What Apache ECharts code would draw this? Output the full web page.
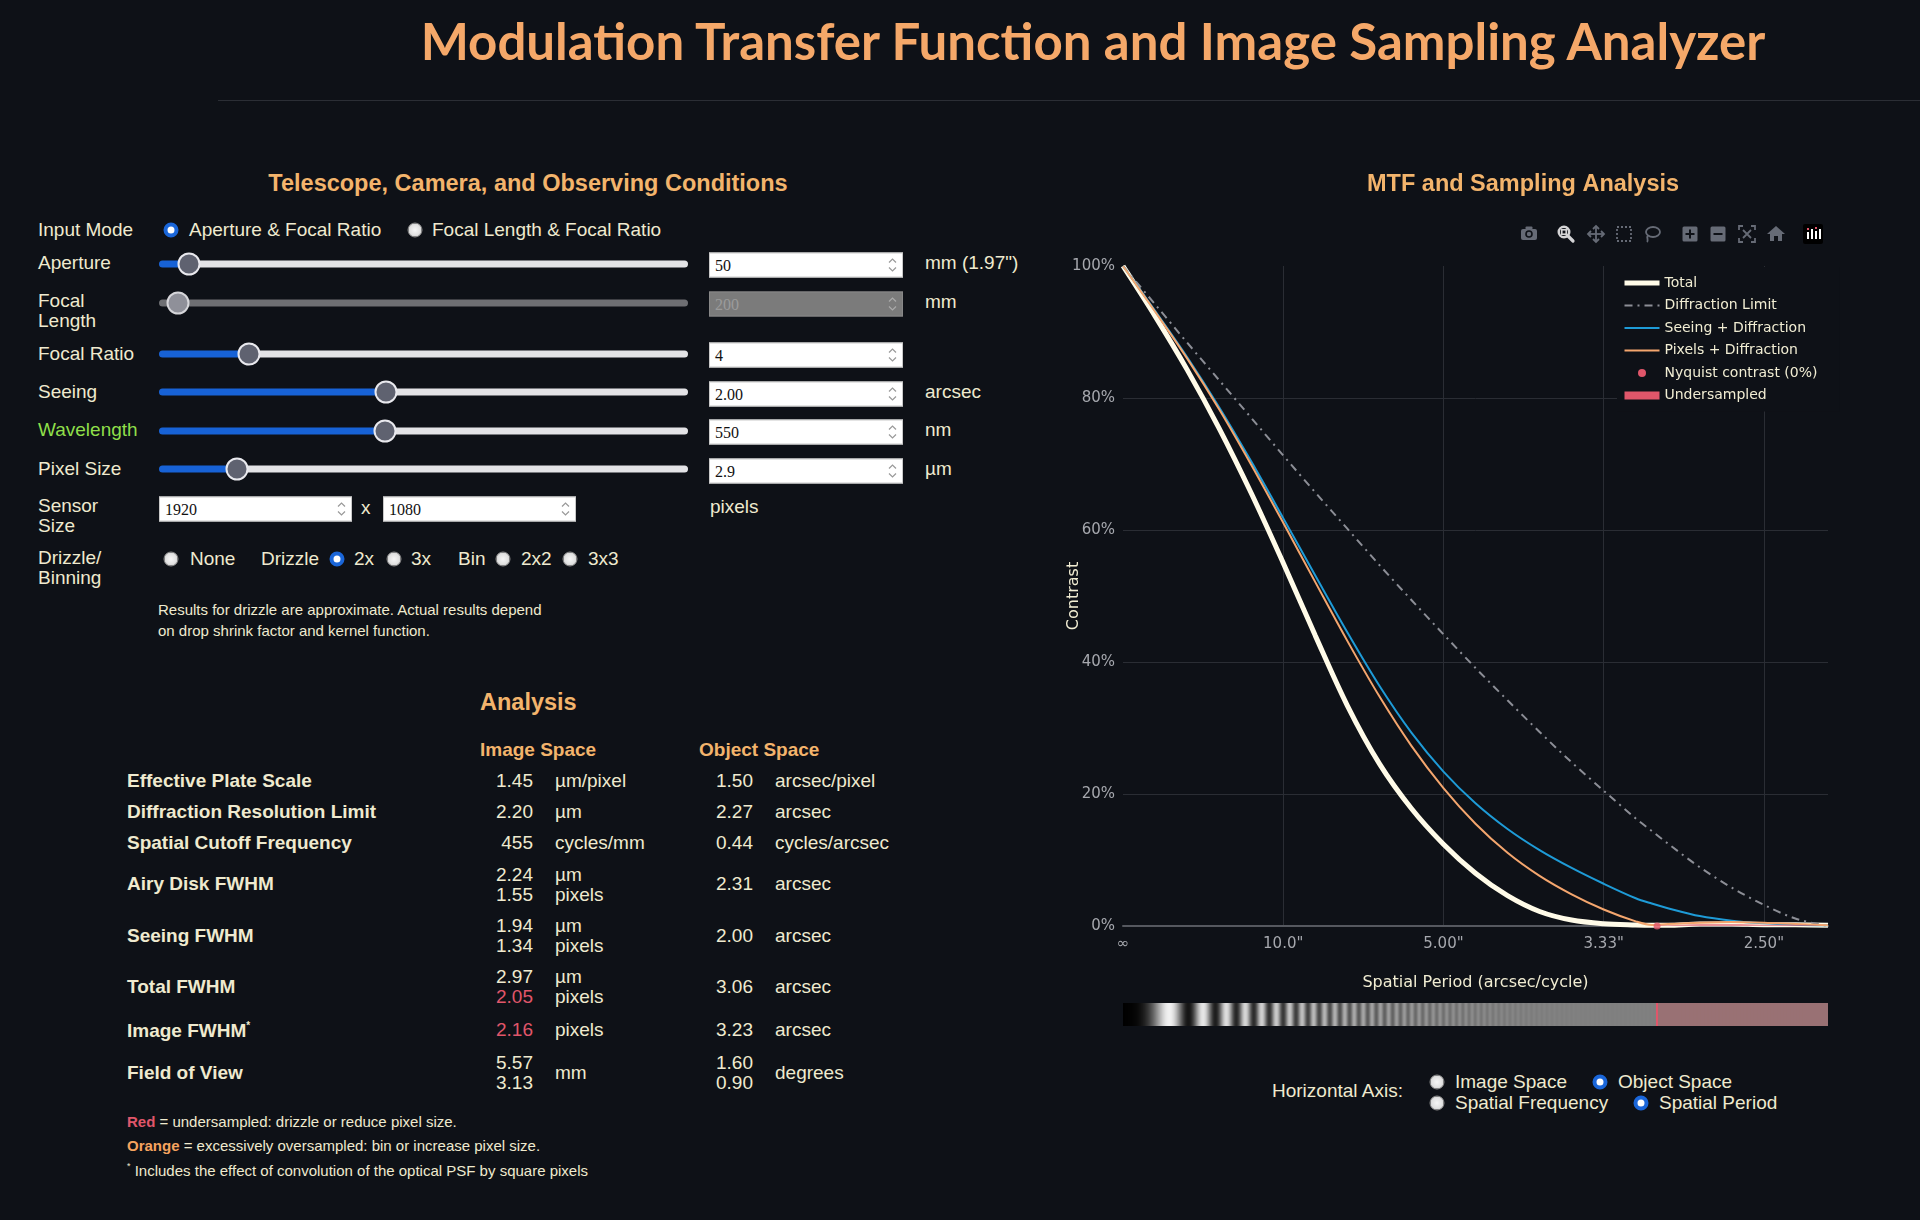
<!DOCTYPE html>
<html>
<head>
<meta charset="utf-8">
<title>Modulation Transfer Function and Image Sampling Analyzer</title>
<script src="https://cdn.jsdelivr.net/npm/echarts@6/dist/echarts.min.js"></script>
<style>
body{margin:0;background:#0e1117;width:1920px;height:1220px;overflow:hidden;position:relative;font-family:"Liberation Sans",Arial,sans-serif;color:#efeacf;}
.a{position:absolute;white-space:nowrap;transform:translateY(-50%);line-height:1.15;}
.r{transform:translate(-100%,-50%);}
.lbl{font-size:19px;}
.h{font-weight:bold;font-size:23.5px;color:#f3b46c;}
.hs{font-weight:bold;font-size:19px;color:#f3b46c;}
.lb{font-weight:bold;font-size:19px;}
.v{font-size:19px;}
.red{color:#e0566a;}
.note{font-size:15px;}
.rad{position:absolute;width:15px;height:15px;border-radius:50%;box-sizing:border-box;transform:translate(-50%,-50%);background:radial-gradient(circle,#f6f6f6 0,#e2e2e2 55%,#b5b5b5 100%);border:1px solid #8d8d8d;}
.rad.on{background:#fff;border:4px solid #1a66d9;}
.trk{position:absolute;left:159px;width:529px;height:7px;border-radius:4px;transform:translateY(-50%);}
.thumb{position:absolute;width:23px;height:23px;border-radius:50%;box-sizing:border-box;background:#5f6270;border:2.5px solid #e9e9ee;transform:translate(-50%,-50%);}
.inp{position:absolute;height:25px;background:#fff;border:1px solid #c9c9c9;box-sizing:border-box;transform:translateY(-50%);font:16px "Liberation Serif",serif;color:#111;padding-left:5px;line-height:23px;}
.inp.dis{background:#7b7b7b;border-color:#888;color:#9b9b9b;}
.spin{position:absolute;right:3px;top:3px;width:13px;height:17px;}
#chart{position:absolute;left:1040px;top:150px;width:880px;height:900px;}
#grating{position:absolute;}
</style>
</head>
<body>
<!-- Page title -->
<div class="a" style="left:1093px;top:40px;transform:translate(-50%,-50%);font:bold 51px Lato,'Liberation Sans',sans-serif;color:#f5a869;">Modulation Transfer Function and Image Sampling Analyzer</div>
<div style="position:absolute;left:218px;top:100px;width:1702px;height:1px;background:#2b2e35;"></div>

<!-- Left panel -->
<div class="a h" style="left:528px;top:184px;transform:translate(-50%,-50%);">Telescope, Camera, and Observing Conditions</div>

<div class="a lbl" style="left:38px;top:230px;">Input Mode</div>
<span class="rad on" style="left:171px;top:230px;"></span>
<div class="a lbl" style="left:189px;top:230px;">Aperture &amp; Focal Ratio</div>
<span class="rad" style="left:415px;top:230px;"></span>
<div class="a lbl" style="left:432px;top:230px;">Focal Length &amp; Focal Ratio</div>

<div class="a lbl" style="left:38px;top:263px;">Aperture</div>
<div class="trk" style="top:264px;background:linear-gradient(90deg,#1762d6 0 30px,#e3e3e6 30px);"></div>
<div class="thumb" style="left:189px;top:264px;"></div>
<div class="inp" style="left:709px;top:265px;width:194px;">50<svg class="spin" viewBox="0 0 13 17"><path d="M3 6 L6.5 2.5 L10 6 M3 11 L6.5 14.5 L10 11" stroke="#999" fill="none" stroke-width="1.2"/></svg></div>
<div class="a lbl" style="left:925px;top:263px;">mm (1.97")</div>

<div class="a lbl" style="left:38px;top:311px;line-height:20px;">Focal<br>Length</div>
<div class="trk" style="top:303px;background:#6e6f73;"></div>
<div class="thumb" style="left:178px;top:303px;background:#8f9099;border-color:#d6d6da;"></div>
<div class="inp dis" style="left:709px;top:304px;width:194px;">200<svg class="spin" viewBox="0 0 13 17"><path d="M3 6 L6.5 2.5 L10 6 M3 11 L6.5 14.5 L10 11" stroke="#aaa" fill="none" stroke-width="1.2"/></svg></div>
<div class="a lbl" style="left:925px;top:302px;">mm</div>

<div class="a lbl" style="left:38px;top:354px;">Focal Ratio</div>
<div class="trk" style="top:354px;background:linear-gradient(90deg,#1762d6 0 90px,#e3e3e6 90px);"></div>
<div class="thumb" style="left:249px;top:354px;"></div>
<div class="inp" style="left:709px;top:355px;width:194px;">4<svg class="spin" viewBox="0 0 13 17"><path d="M3 6 L6.5 2.5 L10 6 M3 11 L6.5 14.5 L10 11" stroke="#999" fill="none" stroke-width="1.2"/></svg></div>

<div class="a lbl" style="left:38px;top:392px;">Seeing</div>
<div class="trk" style="top:392px;background:linear-gradient(90deg,#1762d6 0 227px,#e3e3e6 227px);"></div>
<div class="thumb" style="left:386px;top:392px;"></div>
<div class="inp" style="left:709px;top:394px;width:194px;">2.00<svg class="spin" viewBox="0 0 13 17"><path d="M3 6 L6.5 2.5 L10 6 M3 11 L6.5 14.5 L10 11" stroke="#999" fill="none" stroke-width="1.2"/></svg></div>
<div class="a lbl" style="left:925px;top:392px;">arcsec</div>

<div class="a lbl" style="left:38px;top:430px;color:#8fdf4a;">Wavelength</div>
<div class="trk" style="top:431px;background:linear-gradient(90deg,#1762d6 0 225px,#e3e3e6 225px);"></div>
<div class="thumb" style="left:385px;top:431px;"></div>
<div class="inp" style="left:709px;top:432px;width:194px;">550<svg class="spin" viewBox="0 0 13 17"><path d="M3 6 L6.5 2.5 L10 6 M3 11 L6.5 14.5 L10 11" stroke="#999" fill="none" stroke-width="1.2"/></svg></div>
<div class="a lbl" style="left:925px;top:430px;">nm</div>

<div class="a lbl" style="left:38px;top:469px;">Pixel Size</div>
<div class="trk" style="top:469px;background:linear-gradient(90deg,#1762d6 0 78px,#e3e3e6 78px);"></div>
<div class="thumb" style="left:237px;top:469px;"></div>
<div class="inp" style="left:709px;top:471px;width:194px;">2.9<svg class="spin" viewBox="0 0 13 17"><path d="M3 6 L6.5 2.5 L10 6 M3 11 L6.5 14.5 L10 11" stroke="#999" fill="none" stroke-width="1.2"/></svg></div>
<div class="a lbl" style="left:925px;top:469px;">µm</div>

<div class="a lbl" style="left:38px;top:516px;line-height:20px;">Sensor<br>Size</div>
<div class="inp" style="left:159px;top:509px;width:193px;">1920<svg class="spin" viewBox="0 0 13 17"><path d="M3 6 L6.5 2.5 L10 6 M3 11 L6.5 14.5 L10 11" stroke="#999" fill="none" stroke-width="1.2"/></svg></div>
<div class="a lbl" style="left:361px;top:508px;">x</div>
<div class="inp" style="left:383px;top:509px;width:193px;">1080<svg class="spin" viewBox="0 0 13 17"><path d="M3 6 L6.5 2.5 L10 6 M3 11 L6.5 14.5 L10 11" stroke="#999" fill="none" stroke-width="1.2"/></svg></div>
<div class="a lbl" style="left:710px;top:507px;">pixels</div>

<div class="a lbl" style="left:38px;top:568px;line-height:20px;">Drizzle/<br>Binning</div>
<span class="rad" style="left:171px;top:559px;"></span>
<div class="a lbl" style="left:190px;top:559px;">None</div>
<div class="a lbl" style="left:261px;top:559px;">Drizzle</div>
<span class="rad on" style="left:337px;top:559px;"></span>
<div class="a lbl" style="left:354px;top:559px;">2x</div>
<span class="rad" style="left:394px;top:559px;"></span>
<div class="a lbl" style="left:411px;top:559px;">3x</div>
<div class="a lbl" style="left:458px;top:559px;">Bin</div>
<span class="rad" style="left:503px;top:559px;"></span>
<div class="a lbl" style="left:521px;top:559px;">2x2</div>
<span class="rad" style="left:570px;top:559px;"></span>
<div class="a lbl" style="left:588px;top:559px;">3x3</div>

<div class="a note" style="left:158px;top:620px;line-height:20.5px;">Results for drizzle are approximate. Actual results depend<br>on drop shrink factor and kernel function.</div>

<!-- Analysis -->
<div class="a h" style="left:480px;top:703px;">Analysis</div>
<div class="a hs" style="left:480px;top:750px;">Image Space</div>
<div class="a hs" style="left:699px;top:750px;">Object Space</div>

<div class="a lb" style="left:127px;top:781px;">Effective Plate Scale</div>
<div class="a v r" style="left:533px;top:781px;">1.45</div><div class="a v" style="left:555px;top:781px;">µm/pixel</div>
<div class="a v r" style="left:753px;top:781px;">1.50</div><div class="a v" style="left:775px;top:781px;">arcsec/pixel</div>

<div class="a lb" style="left:127px;top:812px;">Diffraction Resolution Limit</div>
<div class="a v r" style="left:533px;top:812px;">2.20</div><div class="a v" style="left:555px;top:812px;">µm</div>
<div class="a v r" style="left:753px;top:812px;">2.27</div><div class="a v" style="left:775px;top:812px;">arcsec</div>

<div class="a lb" style="left:127px;top:843px;">Spatial Cutoff Frequency</div>
<div class="a v r" style="left:533px;top:843px;">455</div><div class="a v" style="left:555px;top:843px;">cycles/mm</div>
<div class="a v r" style="left:753px;top:843px;">0.44</div><div class="a v" style="left:775px;top:843px;">cycles/arcsec</div>

<div class="a lb" style="left:127px;top:884px;">Airy Disk FWHM</div>
<div class="a v r" style="left:533px;top:875px;">2.24</div><div class="a v" style="left:555px;top:875px;">µm</div>
<div class="a v r" style="left:533px;top:895px;">1.55</div><div class="a v" style="left:555px;top:895px;">pixels</div>
<div class="a v r" style="left:753px;top:884px;">2.31</div><div class="a v" style="left:775px;top:884px;">arcsec</div>

<div class="a lb" style="left:127px;top:936px;">Seeing FWHM</div>
<div class="a v r" style="left:533px;top:926px;">1.94</div><div class="a v" style="left:555px;top:926px;">µm</div>
<div class="a v r" style="left:533px;top:946px;">1.34</div><div class="a v" style="left:555px;top:946px;">pixels</div>
<div class="a v r" style="left:753px;top:936px;">2.00</div><div class="a v" style="left:775px;top:936px;">arcsec</div>

<div class="a lb" style="left:127px;top:987px;">Total FWHM</div>
<div class="a v r" style="left:533px;top:977px;">2.97</div><div class="a v" style="left:555px;top:977px;">µm</div>
<div class="a v r red" style="left:533px;top:997px;">2.05</div><div class="a v" style="left:555px;top:997px;">pixels</div>
<div class="a v r" style="left:753px;top:987px;">3.06</div><div class="a v" style="left:775px;top:987px;">arcsec</div>

<div class="a lb" style="left:127px;top:1031px;">Image FWHM<sup style="font-size:10px;vertical-align:8px;">*</sup></div>
<div class="a v r red" style="left:533px;top:1030px;">2.16</div><div class="a v" style="left:555px;top:1030px;">pixels</div>
<div class="a v r" style="left:753px;top:1030px;">3.23</div><div class="a v" style="left:775px;top:1030px;">arcsec</div>

<div class="a lb" style="left:127px;top:1073px;">Field of View</div>
<div class="a v r" style="left:533px;top:1063px;">5.57</div>
<div class="a v r" style="left:533px;top:1083px;">3.13</div>
<div class="a v" style="left:555px;top:1073px;">mm</div>
<div class="a v r" style="left:753px;top:1063px;">1.60</div>
<div class="a v r" style="left:753px;top:1083px;">0.90</div>
<div class="a v" style="left:775px;top:1073px;">degrees</div>

<div class="a note" style="left:127px;top:1122px;"><b class="red">Red</b> = undersampled: drizzle or reduce pixel size.</div>
<div class="a note" style="left:127px;top:1146px;"><b style="color:#f5a35f;">Orange</b> = excessively oversampled: bin or increase pixel size.</div>
<div class="a note" style="left:127px;top:1170px;"><sup style="font-size:9px;vertical-align:7px;">*</sup> Includes the effect of convolution of the optical PSF by square pixels</div>

<!-- Chart -->
<div id="chart"></div>
<canvas id="grating"></canvas>

<!-- Plot toolbar icons -->
<svg style="position:absolute;left:1510px;top:220px;" width="320" height="30" viewBox="0 0 320 30">
  <g fill="#666b76" stroke="none">
    <g transform="translate(19,14)"><rect x="-8" y="-5" width="16" height="11" rx="2"/><rect x="-3.5" y="-7.5" width="7" height="3" rx="1"/><circle r="3.8" fill="#0e1117"/><circle r="2.2"/></g>
    <g transform="translate(56,14)" stroke="#d4d4d6" fill="none"><circle cx="-2" cy="-2" r="5.2" stroke-width="2.6"/><rect x="-4.2" y="-4.2" width="4.4" height="4.4" stroke-width="1.6"/><line x1="2" y1="2" x2="7" y2="7" stroke-width="3.2" stroke-linecap="round"/></g>
    <g transform="translate(86,14)" stroke="#666b76" fill="none" stroke-width="1.8"><line x1="-8" y1="0" x2="8" y2="0"/><line x1="0" y1="-8" x2="0" y2="8"/><path d="M-5 -3 L-8 0 L-5 3 M5 -3 L8 0 L5 3 M-3 -5 L0 -8 L3 -5 M-3 5 L0 8 L3 5"/></g>
    <g transform="translate(114,14)" stroke="#666b76" fill="none" stroke-width="1.8" stroke-dasharray="2 2"><rect x="-7" y="-7" width="14" height="14"/></g>
    <g transform="translate(142,14)" stroke="#666b76" fill="none" stroke-width="1.8"><ellipse cx="1" cy="-2" rx="7" ry="5"/><path d="M-4 1 C-6 4 -3 6 -5 8"/></g>
    <g transform="translate(180,14)"><rect x="-7.5" y="-7.5" width="15" height="15" rx="1.5"/><rect x="-4.5" y="-1" width="9" height="2" fill="#0e1117"/><rect x="-1" y="-4.5" width="2" height="9" fill="#0e1117"/></g>
    <g transform="translate(208,14)"><rect x="-7.5" y="-7.5" width="15" height="15" rx="1.5"/><rect x="-4.5" y="-1" width="9" height="2" fill="#0e1117"/></g>
    <g transform="translate(237,14)" stroke="#666b76" fill="none" stroke-width="1.8"><path d="M-8 -4 V-8 H-4 M4 -8 H8 V-4 M8 4 V8 H4 M-4 8 H-8 V4"/><path d="M-4 -4 L4 4 M4 -4 L-4 4"/></g>
    <g transform="translate(266,14)"><path d="M0 -8 L9 0 L6 0 L6 7 L2 7 L2 2 L-2 2 L-2 7 L-6 7 L-6 0 L-9 0 Z"/></g>
    <g transform="translate(303,14)"><rect x="-10" y="-10" width="20" height="20" rx="2" fill="#000"/><rect x="-6" y="-2" width="2" height="7" fill="#fff"/><rect x="-2" y="-5" width="2" height="10" fill="#fff"/><rect x="2" y="-3" width="2" height="8" fill="#fff"/><rect x="6" y="-5" width="2" height="10" fill="#fff"/><rect x="-6" y="-6" width="2" height="2" fill="#e0566a"/><rect x="2" y="-7" width="2" height="2" fill="#e0566a"/></g>
  </g>
</svg>

<!-- Horizontal axis controls -->
<div class="a lbl" style="left:1272px;top:1091px;">Horizontal Axis:</div>
<span class="rad" style="left:1437px;top:1082px;"></span>
<div class="a lbl" style="left:1455px;top:1082px;">Image Space</div>
<span class="rad on" style="left:1600px;top:1082px;"></span>
<div class="a lbl" style="left:1618px;top:1082px;">Object Space</div>
<span class="rad" style="left:1437px;top:1103px;"></span>
<div class="a lbl" style="left:1455px;top:1103px;">Spatial Frequency</div>
<span class="rad on" style="left:1641px;top:1103px;"></span>
<div class="a lbl" style="left:1659px;top:1103px;">Spatial Period</div>

<script>
// Spatial frequency (cycles/arcsec) sample points
const freq = [0, 0.02, 0.04, 0.06, 0.08, 0.10, 0.12, 0.14, 0.16, 0.18, 0.20, 0.22, 0.24, 0.26, 0.28, 0.30, 0.32, 0.33, 0.34, 0.36, 0.38, 0.40, 0.42, 0.44];
// Contrast (%)
const totalMTF       = [100, 92.4, 84.3, 75.4, 65.6, 55.0, 44.0, 33.4, 24.6, 17.8, 12.4, 8.0, 4.6, 2.2, 0.9, 0.35, 0.15, 0.1, 0.1, 0.3, 0.3, 0.2, 0.2, 0.1];
const diffractionMTF = [100, 94.2, 88.4, 82.7, 77.0, 71.3, 65.7, 60.2, 54.7, 49.4, 44.2, 39.1, 34.2, 29.4, 24.8, 20.5, 16.3, 14.4, 12.5, 8.9, 5.8, 3.2, 1.1, 0];
const seeingMTF      = [100, 93.2, 86.2, 78.6, 70.4, 61.8, 53.1, 44.5, 36.4, 29.3, 23.4, 18.6, 14.7, 11.5, 8.8, 6.4, 4.2, 3.4, 2.7, 1.5, 0.8, 0.4, 0.2, 0.1];
const pixelsMTF      = [100, 93.1, 86.0, 78.3, 69.9, 61.1, 52.1, 43.2, 34.8, 27.3, 20.9, 15.5, 11.1, 7.6, 4.8, 2.5, 0.7, 0.15, 0.3, 0.5, 0.6, 0.5, 0.3, 0.1];
// Nyquist marker and undersampled region
const nyquistFreq = 0.3333;
const nyquistContrast = 0;
const undersampledFreq = [0.3333, 0.34, 0.36, 0.38, 0.40, 0.42, 0.44];
const undersampledMTF  = [0.1, 0.1, 0.3, 0.3, 0.2, 0.2, 0.1];
// Axis ticks: frequency -> spatial period label
const periodTicks  = [0, 0.1, 0.2, 0.3, 0.4];
const periodLabels = ['∞', '10.0"', '5.00"', '3.33"', '2.50"'];
const freqMax = 0.44;

const pairs = (xs, ys) => xs.map((x, i) => [x, ys[i]]);
const chartFont = "'DejaVu Sans', Verdana, sans-serif";
const cream = '#f1edd3';
const red = '#e0566a';
const SMOOTH = 0.33;

const chart = echarts.init(document.getElementById('chart'));
chart.setOption({
  backgroundColor: 'transparent',
  animation: false,
  title: {
    text: 'MTF and Sampling Analysis', left: 322, top: 18,
    textStyle: { color: '#f3b46c', fontSize: 23.5, fontWeight: 'bold', fontFamily: "'Liberation Sans', Arial, sans-serif" }
  },
  grid: { left: 83, top: 116, width: 705, height: 660 },
  xAxis: {
    type: 'value', min: 0, max: freqMax, interval: 0.1,
    name: 'Spatial Period (arcsec/cycle)', nameLocation: 'middle', nameGap: 49, nameMoveOverlap: false,
    nameTextStyle: { color: cream, fontSize: 16, fontFamily: chartFont },
    axisLine: { show: true, lineStyle: { color: '#55585f', width: 2 } },
    axisTick: { show: false },
    axisLabel: {
      color: '#a6a8ae', fontSize: 15, fontFamily: chartFont, margin: 11,
      formatter: v => { const k = periodTicks.findIndex(t => Math.abs(t - v) < 1e-6); return k >= 0 ? periodLabels[k] : ''; }
    },
    splitLine: { show: true, showMinLine: false, showMaxLine: false, lineStyle: { color: '#2a2d34', width: 1 } }
  },
  yAxis: {
    type: 'value', min: 0, max: 100, interval: 20,
    name: 'Contrast', nameLocation: 'middle', nameGap: 41, nameMoveOverlap: false,
    nameTextStyle: { color: cream, fontSize: 16, fontFamily: chartFont },
    axisLine: { show: false }, axisTick: { show: false },
    axisLabel: { color: '#a6a8ae', fontSize: 15, fontFamily: chartFont, margin: 8, formatter: '{value}%' },
    splitLine: { show: true, showMinLine: false, showMaxLine: false, lineStyle: { color: '#2a2d34', width: 1 } }
  },
  legend: {
    orient: 'vertical', left: 577, top: 117,
    itemWidth: 35, itemHeight: 8, itemGap: 6.5,
    padding: [8, 22, 8, 5],
    backgroundColor: '#0e1117',
    itemStyle: { opacity: 0 },
    textStyle: { color: cream, fontSize: 14, lineHeight: 16, fontFamily: chartFont },
    data: [
      { name: 'Total', lineStyle: { width: 5 } },
      { name: 'Diffraction Limit' },
      { name: 'Seeing + Diffraction' },
      { name: 'Pixels + Diffraction' },
      { name: 'Nyquist contrast (0%)', icon: 'circle', itemStyle: { opacity: 1, color: red } },
      { name: 'Undersampled', icon: 'rect', itemStyle: { opacity: 1, color: red } }
    ]
  },
  series: [
    { name: 'Total', type: 'line', data: pairs(freq, totalMTF), symbol: 'none', smooth: SMOOTH, z: 2,
      lineStyle: { color: '#fffbe8', width: 5 }, itemStyle: { color: '#fffbe8' } },
    { name: 'Diffraction Limit', type: 'line', data: pairs(freq, diffractionMTF), symbol: 'none', smooth: SMOOTH, z: 3,
      lineStyle: { color: '#8c8e96', width: 2, type: [8, 5, 2, 5] }, itemStyle: { color: '#8c8e96' } },
    { name: 'Seeing + Diffraction', type: 'line', data: pairs(freq, seeingMTF), symbol: 'none', smooth: SMOOTH, z: 4,
      lineStyle: { color: '#1e9bd7', width: 2 }, itemStyle: { color: '#1e9bd7' } },
    { name: 'Pixels + Diffraction', type: 'line', data: pairs(freq, pixelsMTF), symbol: 'none', smooth: SMOOTH, z: 5,
      lineStyle: { color: '#f4a66e', width: 2 }, itemStyle: { color: '#f4a66e' } },
    { name: 'Undersampled', type: 'line', data: pairs(undersampledFreq, undersampledMTF), symbol: 'none', smooth: SMOOTH, z: 6,
      lineStyle: { width: 0, color: red }, itemStyle: { color: red },
      areaStyle: { color: 'rgba(224,86,106,0.9)', origin: 'start' } },
    { name: 'Nyquist contrast (0%)', type: 'scatter', data: [[nyquistFreq, nyquistContrast]], symbolSize: 7, z: 7,
      itemStyle: { color: red } }
  ]
});

// Grating bar under the axis: stripes of rising frequency, contrast from the Total MTF
function drawGrating() {
  const rect = document.getElementById('chart').getBoundingClientRect();
  const x0 = chart.convertToPixel({ xAxisIndex: 0 }, 0);
  const x1 = chart.convertToPixel({ xAxisIndex: 0 }, freqMax);
  const w = Math.round(x1 - x0), h = 23;
  const cv = document.getElementById('grating');
  cv.width = w; cv.height = h;
  cv.style.left = (rect.left + x0) + 'px';
  cv.style.top = '1003px';
  cv.style.width = w + 'px'; cv.style.height = h + 'px';
  const ctx = cv.getContext('2d');
  const mtfAt = f => {
    for (let i = 0; i < freq.length - 1; i++) {
      if (f <= freq[i + 1]) { const t = (f - freq[i]) / (freq[i + 1] - freq[i]); return (totalMTF[i] + t * (totalMTF[i + 1] - totalMTF[i])) / 100; }
    }
    return totalMTF[totalMTF.length - 1] / 100;
  };
  for (let px = 0; px < w; px++) {
    const f = (px + 0.5) / w * freqMax;
    const m = mtfAt(f);
    let v = 0.5 - 0.5 * m * Math.cos(2 * Math.PI * 600 * f * f);
    let r = v * 255, g = v * 255, b = v * 255;
    if (f >= nyquistFreq) { r = r * 0.75 + 230 * 0.25; g = g * 0.75 + 70 * 0.25; b = b * 0.75 + 80 * 0.25; }
    ctx.fillStyle = `rgb(${Math.round(r)},${Math.round(g)},${Math.round(b)})`;
    ctx.fillRect(px, 0, 1, h);
  }
  const nx = Math.round(nyquistFreq / freqMax * w);
  ctx.fillStyle = red;
  ctx.fillRect(nx - 1, 0, 2, h);
}
drawGrating();
</script>
</body>
</html>
